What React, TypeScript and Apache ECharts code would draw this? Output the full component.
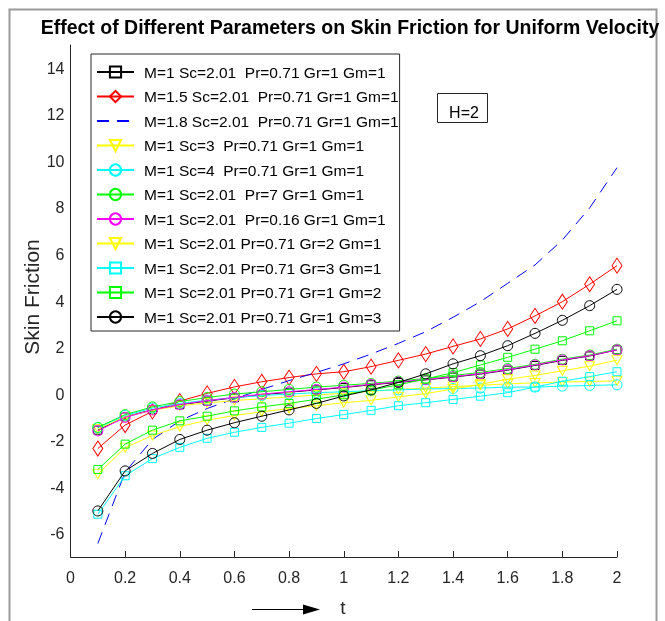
import React, { useEffect, useRef } from 'react';
import * as echarts from 'echarts';

const tValues = [0.1, 0.2, 0.3, 0.4, 0.5, 0.6, 0.7, 0.8, 0.9, 1.0, 1.1, 1.2, 1.3, 1.4, 1.5, 1.6, 1.7, 1.8, 1.9, 2.0];

const seriesNames = [
  'M=1 Sc=2.01  Pr=0.71 Gr=1 Gm=1',
  'M=1.5 Sc=2.01  Pr=0.71 Gr=1 Gm=1',
  'M=1.8 Sc=2.01  Pr=0.71 Gr=1 Gm=1',
  'M=1 Sc=3  Pr=0.71 Gr=1 Gm=1',
  'M=1 Sc=4  Pr=0.71 Gr=1 Gm=1',
  'M=1 Sc=2.01  Pr=7 Gr=1 Gm=1',
  'M=1 Sc=2.01  Pr=0.16 Gr=1 Gm=1',
  'M=1 Sc=2.01 Pr=0.71 Gr=2 Gm=1',
  'M=1 Sc=2.01 Pr=0.71 Gr=3 Gm=1',
  'M=1 Sc=2.01 Pr=0.71 Gr=1 Gm=2',
  'M=1 Sc=2.01 Pr=0.71 Gr=1 Gm=3',
];

const baseCase = [-1.55, -0.98, -0.67, -0.46, -0.3, -0.16, -0.03, 0.08, 0.18, 0.28, 0.4, 0.5, 0.61, 0.73, 0.86, 1.03, 1.23, 1.45, 1.64, 1.9];
const mag15 = [-2.34, -1.33, -0.74, -0.3, 0.03, 0.31, 0.53, 0.71, 0.87, 0.96, 1.18, 1.45, 1.72, 2.05, 2.37, 2.8, 3.36, 3.97, 4.72, 5.52];
const mag18 = [-6.42, -3.35, -1.95, -1.15, -0.62, -0.2, 0.2, 0.58, 0.93, 1.3, 1.72, 2.18, 2.68, 3.3, 3.97, 4.76, 5.55, 6.62, 8.0, 9.73];
const sc3 = [-1.5, -0.98, -0.7, -0.5, -0.38, -0.28, -0.2, -0.12, -0.04, 0.04, 0.12, 0.2, 0.26, 0.32, 0.38, 0.44, 0.48, 0.52, 0.54, 0.57];
const sc4 = [-1.45, -0.92, -0.6, -0.4, -0.26, -0.15, -0.06, 0.0, 0.06, 0.1, 0.15, 0.18, 0.22, 0.24, 0.26, 0.3, 0.3, 0.34, 0.37, 0.4];
const pr7 = [-1.43, -0.88, -0.55, -0.32, -0.15, 0.0, 0.1, 0.2, 0.3, 0.38, 0.46, 0.56, 0.67, 0.8, 0.93, 1.1, 1.28, 1.5, 1.68, 1.93];
const pr016 = [-1.58, -1.0, -0.68, -0.45, -0.28, -0.14, 0.0, 0.1, 0.2, 0.3, 0.42, 0.52, 0.63, 0.75, 0.88, 1.05, 1.25, 1.47, 1.65, 1.9];
const gr2 = [-3.44, -2.3, -1.78, -1.4, -1.12, -0.92, -0.76, -0.62, -0.5, -0.37, -0.27, -0.12, 0.02, 0.22, 0.42, 0.64, 0.8, 1.0, 1.2, 1.46];
const gr3 = [-5.16, -3.51, -2.77, -2.29, -1.9, -1.64, -1.43, -1.25, -1.05, -0.88, -0.7, -0.5, -0.37, -0.23, -0.09, 0.06, 0.3, 0.55, 0.75, 0.96];
const gm2 = [-3.24, -2.15, -1.55, -1.15, -0.95, -0.72, -0.55, -0.4, -0.22, -0.03, 0.17, 0.4, 0.65, 0.92, 1.25, 1.58, 1.93, 2.29, 2.72, 3.15];
const gm3 = [-5.02, -3.3, -2.55, -1.95, -1.55, -1.23, -0.95, -0.68, -0.4, -0.08, 0.18, 0.5, 0.87, 1.3, 1.65, 2.08, 2.61, 3.17, 3.8, 4.5];

const yTickValues = [-6, -4, -2, 0, 2, 4, 6, 8, 10, 12, 14];

const FONT = '"Liberation Sans", Arial, Helvetica, sans-serif';
const AXIS_COLOR = '#262626';

type Style = { color: string; symbol: string; size: number | number[]; rotate?: number; dashed?: boolean };

const styles: Style[] = [
  { color: '#000000', symbol: 'rect', size: 8 },
  { color: '#ff0000', symbol: 'diamond', size: [10, 15] },
  { color: '#0000ff', symbol: 'none', size: 0, dashed: true },
  { color: '#ffff00', symbol: 'triangle', size: [10, 9], rotate: 180 },
  { color: '#00ffff', symbol: 'circle', size: 10 },
  { color: '#00ff00', symbol: 'circle', size: 10 },
  { color: '#ff00ff', symbol: 'circle', size: 10 },
  { color: '#ffff00', symbol: 'triangle', size: [10, 9], rotate: 180 },
  { color: '#00ffff', symbol: 'rect', size: 8 },
  { color: '#00ff00', symbol: 'rect', size: 8 },
  { color: '#000000', symbol: 'circle', size: 10 },
];

const allValues = [baseCase, mag15, mag18, sc3, sc4, pr7, pr016, gr2, gr3, gm2, gm3];

export default function App() {
  const ref = useRef<HTMLDivElement>(null);
  useEffect(() => {
    if (!ref.current) return;
    const chart = echarts.init(ref.current, null, { renderer: 'svg' });
    const series = allValues.map((vals, i) => {
      const s = styles[i];
      return {
        name: seriesNames[i],
        type: 'line',
        data: vals.map((v, j) => [tValues[j], v]),
        symbol: s.symbol,
        symbolSize: s.size,
        symbolRotate: s.rotate || 0,
        showSymbol: s.symbol !== 'none',
        lineStyle: { color: s.color, width: 1, type: s.dashed ? [12, 8] : 'solid' },
        itemStyle: s.symbol === 'none'
          ? { color: 'rgba(255,255,255,0)', borderColor: 'rgba(255,255,255,0)', borderWidth: 0 }
          : { color: 'rgba(255,255,255,0)', borderColor: s.color, borderWidth: 1 },
        emphasis: { disabled: true },
        z: 2 + i * 0.01,
      };
    });
    chart.setOption({
      animation: false,
      grid: { left: 70.5, right: 48, top: 45, bottom: 64, containLabel: false },
      xAxis: {
        type: 'value',
        min: 0,
        max: 2,
        interval: 0.2,
        axisLine: { show: true, onZero: false, lineStyle: { color: AXIS_COLOR, width: 1 } },
        axisTick: { show: true, inside: true, length: 6, lineStyle: { color: AXIS_COLOR } },
        axisLabel: {
          color: AXIS_COLOR,
          fontSize: 16,
          fontFamily: FONT,
          margin: 12,
          formatter: (v: number) => String(Math.round(v * 10) / 10),
        },
        splitLine: { show: false },
      },
      yAxis: {
        type: 'value',
        min: -7,
        max: 15,
        axisLine: { show: true, onZero: false, lineStyle: { color: AXIS_COLOR, width: 1 } },
        axisTick: { show: false },
        axisLabel: {
          color: AXIS_COLOR,
          fontSize: 16,
          fontFamily: FONT,
          margin: 6,
          customValues: yTickValues,
        },
        splitLine: { show: false },
      },
      legend: {
        orient: 'vertical',
        left: 91,
        top: 54,
        itemWidth: 37,
        itemHeight: 14,
        itemGap: 8.5,
        padding: [10, 1, 6, 5],
        borderColor: AXIS_COLOR,
        borderWidth: 1,
        backgroundColor: '#ffffff',
        selectedMode: false,
        textStyle: { fontSize: 15.5, color: '#000', fontFamily: FONT, padding: [0, 0, 0, 5] },
        data: seriesNames,
      },
      graphic: [
        {
          type: 'rect',
          shape: { x: 9.5, y: 9.5, width: 647, height: 640 },
          style: { fill: 'none', stroke: '#9a9a9a', lineWidth: 2 },
          silent: true,
        },
        {
          type: 'text',
          x: 350,
          y: 27,
          style: {
            text: 'Effect of Different Parameters on Skin Friction for Uniform Velocity',
            font: 'bold 19.5px ' + FONT,
            fill: '#000',
            textAlign: 'center',
            textVerticalAlign: 'middle',
          },
        },
        {
          type: 'rect',
          shape: { x: 437.5, y: 93.5, width: 50, height: 29 },
          style: { fill: '#fff', stroke: AXIS_COLOR, lineWidth: 1 },
          z: 10,
        },
        {
          type: 'text',
          x: 464,
          y: 112,
          z: 11,
          style: { text: 'H=2', font: '16px ' + FONT, fill: '#000', textAlign: 'center', textVerticalAlign: 'middle' },
        },
        {
          type: 'text',
          x: 31,
          y: 297,
          rotation: Math.PI / 2,
          style: { text: 'Skin Friction', font: '21px ' + FONT, fill: AXIS_COLOR, textAlign: 'center', textVerticalAlign: 'middle' },
        },
        {
          type: 'text',
          x: 343,
          y: 607,
          style: { text: 't', font: '19px ' + FONT, fill: AXIS_COLOR, textAlign: 'center', textVerticalAlign: 'middle' },
        },
        {
          type: 'line',
          shape: { x1: 252, y1: 609.5, x2: 308, y2: 609.5 },
          style: { stroke: '#000', lineWidth: 1.2 },
        },
        {
          type: 'polygon',
          shape: { points: [[303, 604.5], [320, 609.5], [303, 614.5]] },
          style: { fill: '#000' },
        },
      ],
      series,
    });
    return () => chart.dispose();
  }, []);
  return <div ref={ref} style={{ position: 'fixed', left: 0, top: 0, width: 665, height: 621 }} />;
}
